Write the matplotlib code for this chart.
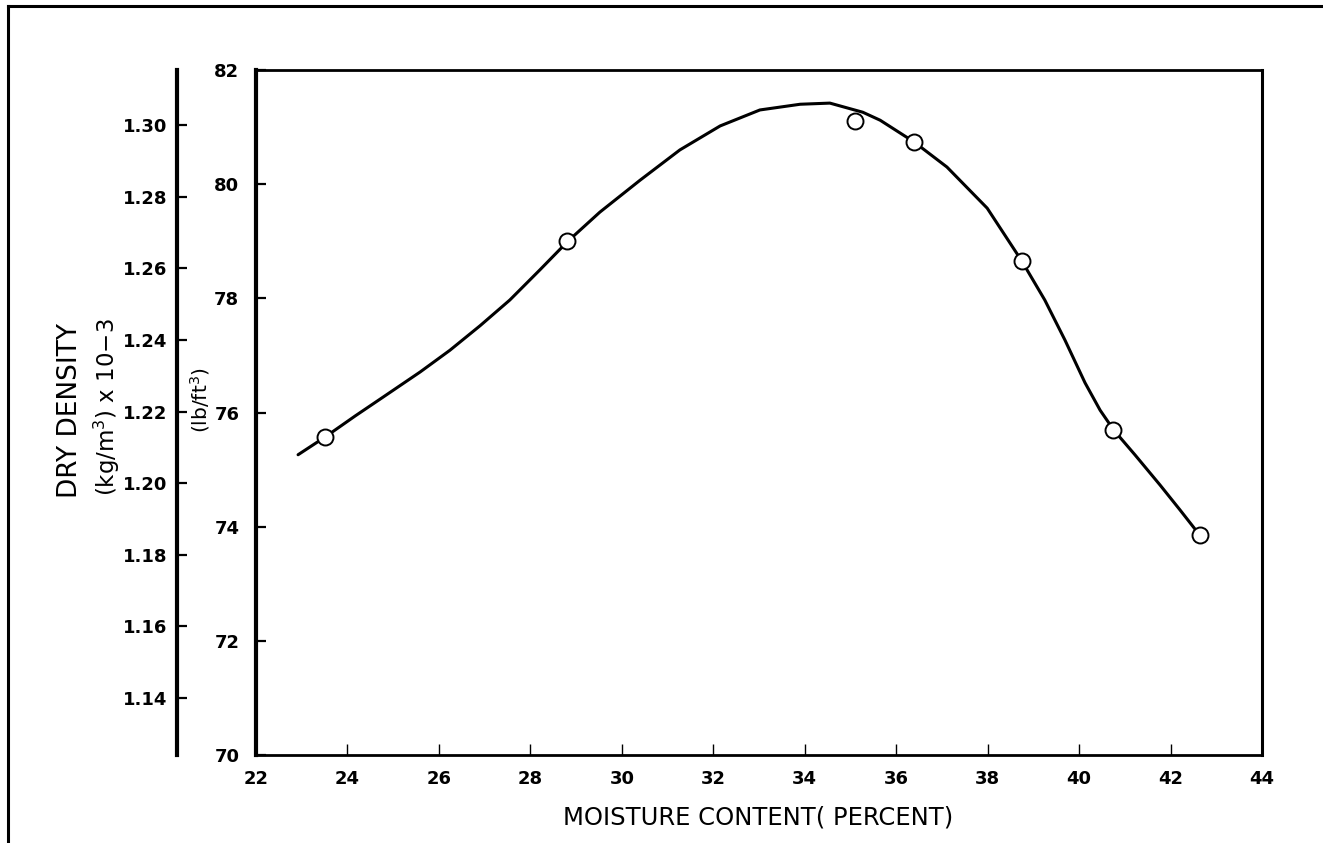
import numpy as np
import matplotlib
matplotlib.use("Agg")
import matplotlib.pyplot as plt
from matplotlib.lines import Line2D

# measured points (moisture %, dry density lb/ft3)
moisture = [23.5, 28.8, 35.1, 36.4, 38.75, 40.75, 42.65]
density = [75.57, 79.0, 81.1, 80.74, 78.65, 75.7, 73.85]

# hand drawn curve
curve_x = [22.92, 23.51, 24.17, 24.78, 25.59, 26.24, 26.90, 27.55, 28.21, 28.82,
           29.52, 30.40, 31.27, 32.15, 33.02, 33.90, 34.55, 35.27, 35.65, 36.39,
           37.11, 37.99, 38.75, 39.25, 39.69, 40.13, 40.46, 40.76, 41.22, 41.77,
           42.21, 42.64]
curve_y = [75.26, 75.57, 75.94, 76.27, 76.71, 77.09, 77.52, 77.97, 78.50, 79.00,
           79.51, 80.07, 80.60, 81.02, 81.30, 81.40, 81.42, 81.26, 81.12, 80.74,
           80.30, 79.58, 78.65, 77.97, 77.27, 76.52, 76.04, 75.69, 75.26, 74.73,
           74.29, 73.85]

x_ticks = [22, 24, 26, 28, 30, 32, 34, 36, 38, 40, 42, 44]
lb_ticks = [70, 72, 74, 76, 78, 80, 82]
kg_ticks = [1.14, 1.16, 1.18, 1.20, 1.22, 1.24, 1.26, 1.28, 1.30]

W, H = 1323, 843
fig = plt.figure(figsize=(W / 100, H / 100), dpi=100)


def fx(px):
    return px / W


def fy(py):
    return 1 - py / H


left, right, top, bottom = 256, 1262, 70, 755
ax = fig.add_axes([fx(left), fy(bottom), fx(right - left), (bottom - top) / H])
ax.plot(curve_x, curve_y, color='black', lw=2.2, zorder=2,
        solid_joinstyle='round', solid_capstyle='round')
ax.plot(moisture, density, 'o', ms=11.5, mfc='white', mec='black', mew=1.4, zorder=3)

ax.set_xlim(22, 44)
ax.set_ylim(70, 82)
ax.set_xticks(x_ticks)
ax.set_yticks(lb_ticks)
ax.tick_params(axis='x', direction='in', length=8, width=1.0, pad=11,
               labelsize=13)
ax.tick_params(axis='y', direction='in', length=7, width=1.6, pad=12,
               labelsize=13)
for lab in ax.get_xticklabels() + ax.get_yticklabels():
    lab.set_fontweight('bold')
ax.spines['left'].set_linewidth(3.0)
ax.spines['bottom'].set_linewidth(2.0)
ax.spines['top'].set_linewidth(2.0)
ax.spines['right'].set_linewidth(2.2)

# secondary scale in kg/m3 x 10-3
ax2 = fig.add_axes([fx(177), fy(bottom), 0.01, (bottom - top) / H])
ax2.set_ylim(1.1241, 1.3154)
ax2.set_yticks(kg_ticks)
ax2.set_yticklabels(['1.14', '1.16', '1.18', '1.20', '1.22', '1.24', '1.26', '1.28', '1.30'])
ax2.set_xticks([])
ax2.patch.set_visible(False)
for s in ['top', 'right', 'bottom']:
    ax2.spines[s].set_visible(False)
ax2.spines['left'].set_linewidth(3.0)
ax2.tick_params(axis='y', direction='in', length=7, width=1.6, pad=7, labelsize=13)
for lab in ax2.get_yticklabels():
    lab.set_fontweight('bold')

# axis titles
fig.text(fx(70), fy(410), 'DRY DENSITY', rotation=90, ha='center', va='center',
         fontsize=19)
fig.text(fx(107), fy(407), '(kg/m$^3$) x 10\u22123', rotation=90, ha='center',
         va='center', fontsize=16.5)
fig.text(fx(200), fy(400), '(lb/ft$^3$)', rotation=90, ha='center', va='center',
         fontsize=14.5)
fig.text(fx(758), fy(817), 'MOISTURE CONTENT( PERCENT)', ha='center', va='center',
         fontsize=17.5)

# page frame from the scan
fig.add_artist(Line2D([fx(8), 1], [fy(6), fy(6)], color='black', lw=2.2))
fig.add_artist(Line2D([fx(8), fx(8)], [fy(6), 0], color='black', lw=2.2))

fig.savefig('out.png', dpi=100)
